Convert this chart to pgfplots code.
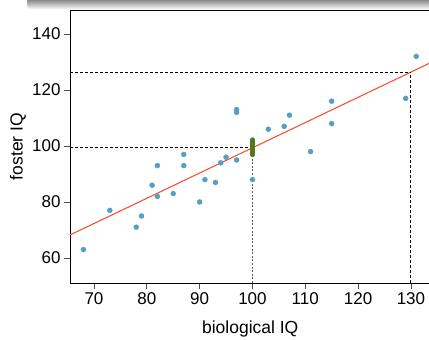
\documentclass[border=0pt]{standalone}
\usepackage{pgfplots}
\pgfplotsset{compat=1.18}
\usepackage{fontspec}
\setmainfont{Liberation Sans}
\definecolor{oiblue}{RGB}{86,158,196}
\definecolor{oired}{RGB}{244,84,52}
\definecolor{oigreen}{RGB}{84,120,30}
\begin{document}
\begin{tikzpicture}
\useasboundingbox (0pt,0pt) rectangle (429pt,340pt);
\clip (0pt,0pt) rectangle (429pt,340pt);
\shade[top color=black!60, middle color=black!40, bottom color=white, rounded corners=4pt] (27pt,330.5pt) rectangle (450pt,343pt);
\begin{axis}[
  at={(70pt,57pt)}, anchor=south west,
  scale only axis, width=360.5pt, height=273pt,
  xmin=65.46, xmax=133.7, ymin=51.07, ymax=148.57,
  xtick={70,80,...,130}, ytick={60,80,...,140},
  xtick pos=bottom, ytick pos=left,
  tick align=outside, major tick length=6pt,
  every tick/.style={gray!60!black, line width=0.8pt},
  axis line style={black, line width=0.8pt},
  ticklabel style={font=\fontsize{17}{20}\selectfont},
  /pgf/number format/assume math mode=true,
  label style={font=\fontsize{17.5}{20}\selectfont},
  xlabel={biological IQ}, ylabel={foster IQ},
  xlabel style={at={(axis description cs:0.5,-0.1685)}, anchor=center},
  ylabel style={at={(axis description cs:-0.1442,0.5)}, anchor=center},
]
\addplot[only marks, mark=*, mark size=2.5pt, oiblue, mark options={draw=oiblue, fill=oiblue}] table {
x y
82 82
90 80
91 88
115 108
115 116
129 117
131 132
78 71
79 75
82 93
97 95
100 88
107 111
68 63
73 77
81 86
85 83
87 93
87 97
93 87
94 94
95 96
97 112
97 113
103 106
106 107
111 98
};
\addplot[oired, line width=1.1pt] coordinates {(65.46,68.22) (133.7,129.73)};
\addplot[black, line width=0.8pt, dash pattern=on 3pt off 2pt] coordinates {(65.46,99.35) (100,99.35)};
\addplot[gray!70!black, line width=1.7pt, dash pattern=on 2pt off 1.6pt] coordinates {(100,51.07) (100,96)};
\addplot[black, line width=0.8pt, dash pattern=on 3pt off 2pt] coordinates {(65.46,126.4) (130,126.4)};
\addplot[black, line width=1pt, dash pattern=on 3pt off 2pt] coordinates {(130,51.07) (130,126.4)};
\addplot[oigreen, line width=4.5pt, line cap=round] coordinates {(100,96.8) (100,102.3)};
\draw[gray, line width=0.9pt] (axis cs:65.46,51.07) -- (axis cs:70,51.07);
\draw[gray, line width=0.9pt] (axis cs:130,51.07) -- (axis cs:133.7,51.07);
\end{axis}
\end{tikzpicture}
\end{document}
